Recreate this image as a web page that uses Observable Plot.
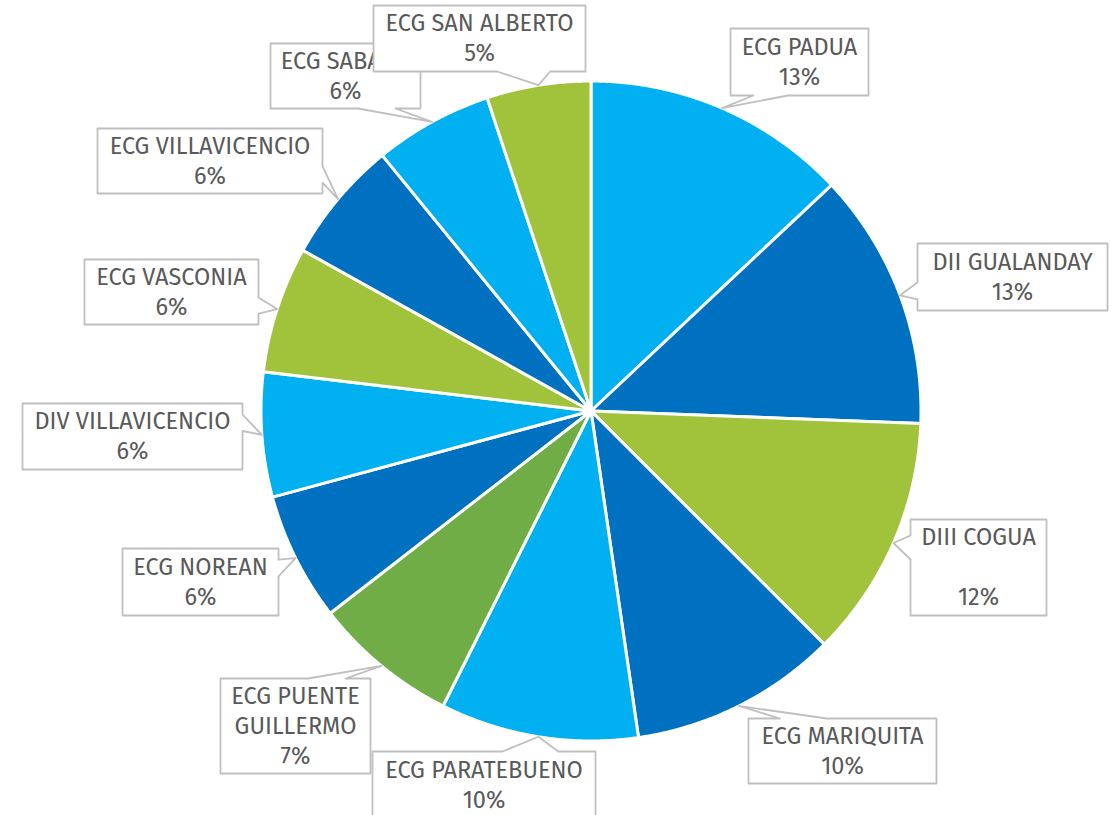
<!DOCTYPE html>
<html><head><meta charset="utf-8">
<script src="https://cdn.jsdelivr.net/npm/d3@7"></script>
<script src="https://cdn.jsdelivr.net/npm/@observablehq/plot@0.6"></script>
<style>html,body{margin:0;padding:0;background:#fff}</style>
</head><body><div id="chart"></div>
<script>
// ---- data ----
const categories = ["ECG PADUA","DII GUALANDAY","DIII COGUA","ECG MARIQUITA","ECG PARATEBUENO","ECG PUENTE GUILLERMO","ECG NOREAN","DIV VILLAVICENCIO","ECG VASCONIA","ECG VILLAVICENCIO","ECG SABANA","ECG SAN ALBERTO"];
const values = [13.0, 12.6, 11.9, 10.2, 9.7, 7.1, 6.3, 6.1, 6.2, 6.0, 5.8, 5.1];
const labelNames = ["ECG PADUA","DII GUALANDAY","DIII COGUA\n","ECG MARIQUITA","ECG PARATEBUENO","ECG PUENTE\nGUILLERMO","ECG NOREAN","DIV VILLAVICENCIO","ECG VASCONIA","ECG VILLAVICENCIO","ECG SABANA","ECG SAN ALBERTO"];
const sliceColors = ["#00B0F0","#0070C0","#A1C33C","#0070C0","#00B0F0","#70AD47","#0070C0","#00B0F0","#A1C33C","#0070C0","#00B0F0","#A1C33C"];
// callout boxes: [center dx, center dy, width, height, wedge side] in px relative to pie centre
const calloutLayout = [
  [208.5,-349,138,67,"bottom"],
  [421.5,-134,190,67,"left"],
  [387.5,156.5,136,96,"left"],
  [251.5,340,188,65,"top"],
  [-107,374,223,67,"top"],
  [-295.5,315,150,95,"top"],
  [-390.5,171,156,67,"right"],
  [-458.5,25.5,220,66,"right"],
  [-419.5,-119,174,65,"right"],
  [-381,-250,225,65,"right"],
  [-245.5,-335,150,65,"bottom"],
  [-111.5,-372.5,212,66,"bottom"]
];

// ---- geometry ----
const W = 1120, H = 815, R = 330, CX = 590.5, CY = 410.5;
const total = d3.sum(values);
const arcs = d3.pie().sort(null).value(d => d)(values);

const slicePts = arcs.flatMap((p, i) => {
  const pts = [{name: categories[i], color: sliceColors[i], x: 0, y: 0}];
  const n = Math.max(2, Math.ceil((p.endAngle - p.startAngle) / 0.004));
  for (let k = 0; k <= n; k++) {
    const a = p.startAngle + (p.endAngle - p.startAngle) * k / n;
    pts.push({name: categories[i], color: sliceColors[i], x: Math.sin(a), y: Math.cos(a)});
  }
  return pts;
});

function callout(i) {
  const [dx, dy, w, h, side] = calloutLayout[i];
  const mid = (arcs[i].startAngle + arcs[i].endAngle) / 2;
  const tx = Math.sin(mid) * R, ty = -Math.cos(mid) * R; // px, y down
  const l = dx - w / 2, r = dx + w / 2, t = dy - h / 2, b = dy + h / 2;
  const fx = tx > dx ? [7, 10] : [2, 5];
  const fy = ty > dy ? [7, 10] : [2, 5];
  const X1 = l + w * fx[0] / 12, X2 = l + w * fx[1] / 12;
  const Y1 = t + h * fy[0] / 12, Y2 = t + h * fy[1] / 12;
  let p;
  if (side === "top") p = [[l,t],[X1,t],[tx,ty],[X2,t],[r,t],[r,b],[l,b]];
  else if (side === "bottom") p = [[l,t],[r,t],[r,b],[X2,b],[tx,ty],[X1,b],[l,b]];
  else if (side === "right") p = [[l,t],[r,t],[r,Y1],[tx,ty],[r,Y2],[r,b],[l,b]];
  else p = [[l,t],[r,t],[r,b],[l,b],[l,Y2],[tx,ty],[l,Y1]];
  return {
    shape: p.map(([x, y]) => ({x: x / R, y: -y / R})),
    label: {x: dx / R, y: -dy / R, text: labelNames[i] + "\n" + Math.round(values[i] / total * 100) + "%"}
  };
}

const font = "'Fira Sans', Roboto, 'Open Sans', sans-serif";
const labelMarks = categories.flatMap((c, i) => {
  const co = callout(i);
  return [
    Plot.line(co.shape, {x: "x", y: "y", fill: "white", stroke: "#BFBFBF", strokeWidth: 1.8, curve: "linear-closed"}),
    Plot.text([co.label], {x: "x", y: "y", text: "text", fontSize: 23.5, lineHeight: 1.277, lineAnchor: "middle", dy: -2, fill: "#595959", fontFamily: font})
  ];
});

const chart = Plot.plot({
  width: W, height: H,
  margin: 0,
  x: {domain: [-CX / R, (W - CX) / R], axis: null},
  y: {domain: [-(H - CY) / R, CY / R], axis: null},
  color: {type: "identity"},
  style: {background: "#fff", fontFamily: font},
  marks: [
    Plot.line(slicePts, {x: "x", y: "y", z: "name", fill: "color", stroke: "white", strokeWidth: 3, strokeLinejoin: "round", curve: "linear-closed"}),
    ...labelMarks
  ]
});
document.getElementById("chart").appendChild(chart);
</script>
</body></html>
